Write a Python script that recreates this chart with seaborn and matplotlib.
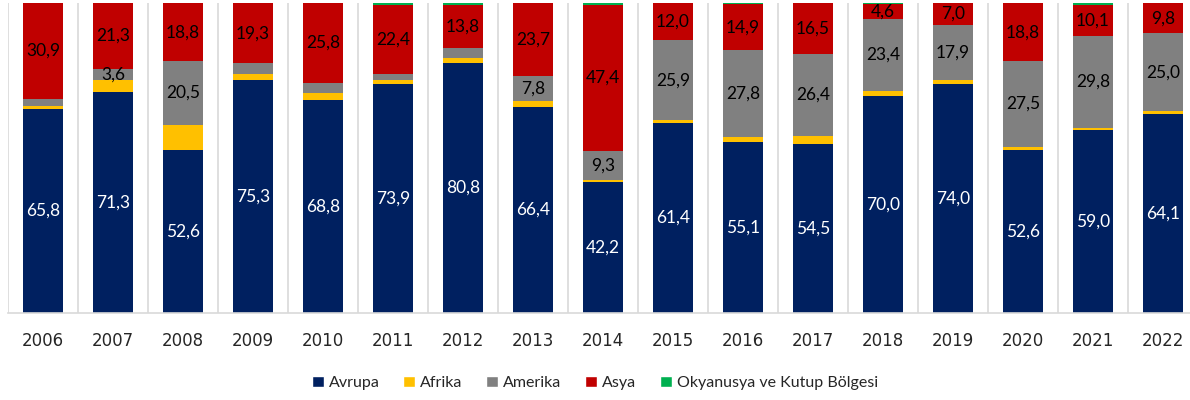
# %%

# Gráfico de barras empilhadas 100% por região
import numpy as np
import pandas as pd
import matplotlib.pyplot as plt
import seaborn as sns
from matplotlib.patches import Patch

# Dados (%)
anos = ['2006', '2007', '2008', '2009', '2010', '2011', '2012', '2013', '2014',
        '2015', '2016', '2017', '2018', '2019', '2020', '2021', '2022']
avrupa = [65.8, 71.3, 52.6, 75.3, 68.8, 73.9, 80.8, 66.4, 42.2, 61.4, 55.1, 54.5, 70.0, 74.0, 52.6, 59.0, 64.1]
afrika = [1.0, 3.8, 8.1, 1.9, 2.2, 1.2, 1.3, 2.1, 0.6, 0.7, 1.8, 2.6, 1.6, 1.1, 1.1, 0.6, 1.1]
amerika = [2.3, 3.6, 20.5, 3.4, 3.2, 2.0, 3.5, 7.8, 9.3, 25.9, 27.8, 26.4, 23.4, 17.9, 27.5, 29.8, 25.0]
asya = [30.9, 21.3, 18.8, 19.3, 25.8, 22.4, 13.8, 23.7, 47.4, 12.0, 14.9, 16.5, 4.6, 7.0, 18.8, 10.1, 9.8]
okyanusya = [0.0, 0.0, 0.0, 0.0, 0.0, 0.5, 0.6, 0.0, 0.5, 0.0, 0.4, 0.0, 0.4, 0.0, 0.0, 0.5, 0.0]

regioes = ['Avrupa', 'Afrika', 'Amerika', 'Asya', 'Okyanusya ve Kutup Bölgesi']
cores = ['#002060', '#FFC000', '#808080', '#C00000', '#00B050']

df = pd.DataFrame({'Ano': anos, 'Avrupa': avrupa, 'Afrika': afrika, 'Amerika': amerika,
                   'Asya': asya, 'Okyanusya ve Kutup Bölgesi': okyanusya})

# Somas acumuladas para empilhar as barras
acumulado = df[regioes].cumsum(axis=1)

# Configurar o estilo do seaborn
sns.set(style="white")
plt.rcParams['font.family'] = ['Lato', 'DejaVu Sans']

fig = plt.figure(figsize=(11.9, 4), dpi=100)
ax = fig.add_axes([8 / 1190, 87 / 400, 1190 / 1190, 310 / 400])

# Desenha do topo para a base (cada camada cobre a anterior)
for regiao, cor in reversed(list(zip(regioes, cores))):
    sns.barplot(x=df['Ano'], y=acumulado[regiao], color=cor, saturation=1, width=0.58,
                errorbar=None, linewidth=0, ax=ax)

# Rótulos dos valores
for regiao, cor_texto in [('Avrupa', 'white'), ('Amerika', 'black'), ('Asya', 'black')]:
    for i, valor in enumerate(df[regiao]):
        if valor >= 3.6:
            centro = acumulado[regiao][i] - valor / 2
            ax.text(i, centro, f'{valor:.1f}'.replace('.', ','), ha='center', va='center',
                    color=cor_texto, fontsize=12.5)

ax.set_ylim(0, 100)
ax.set_xlim(-0.5, len(anos) - 0.5)
ax.set_xlabel('')
ax.set_ylabel('')
ax.set_yticks([])
ax.set_xticks(range(len(anos)), anos, family='DejaVu Sans', fontsize=12, color='#262626')
ax.set_xticks(np.arange(-0.5, len(anos)), minor=True)
ax.grid(axis='x', which='minor', color='#d9d9d9', linewidth=1.2)
ax.set_axisbelow(True)
ax.tick_params(axis='x', which='both', length=0, pad=14)
for lado in ['top', 'left', 'right']:
    ax.spines[lado].set_visible(False)
ax.spines['bottom'].set_color('#d9d9d9')
ax.spines['bottom'].set_linewidth(1.2)

# Legenda
handles = [Patch(facecolor=c, label=r) for r, c in zip(regioes, cores)]
fig.legend(handles=handles, loc='center', bbox_to_anchor=(0.5, 0.0425), ncol=5, frameon=False,
           fontsize=11.5, handlelength=0.75, handleheight=0.75, handletextpad=0.3, columnspacing=1.5)

plt.savefig('out.png', dpi=100)

# %%
